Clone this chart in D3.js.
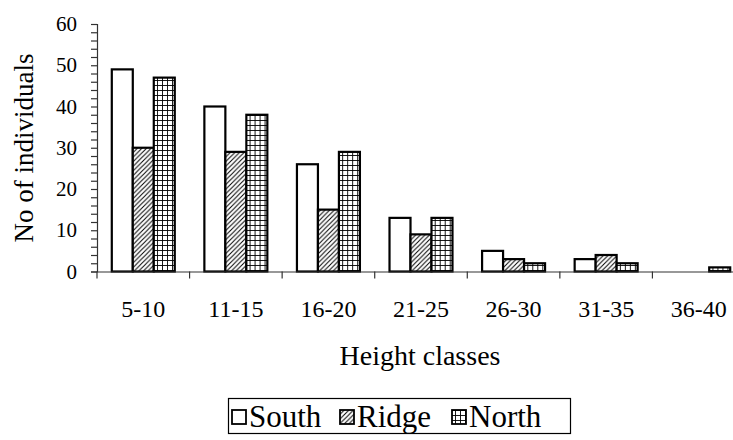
<!DOCTYPE html>
<html>
<head>
<meta charset="utf-8">
<script src="https://cdn.jsdelivr.net/npm/d3@7"></script>
<style>
  html, body { margin: 0; padding: 0; background: #fff; }
  svg { display: block; }
  svg text { font-family: "Liberation Serif", "Times New Roman", serif !important; fill: #000; }
</style>
</head>
<body>
<svg id="chart" width="733" height="440"></svg>
<script>
const categories = ["5-10", "11-15", "16-20", "21-25", "26-30", "31-35", "36-40"];
const seriesNames = ["South", "Ridge", "North"];
const south = [49, 40, 26, 13, 5, 3, 0];
const ridge = [30, 29, 15, 9, 3, 4, 0];
const north = [47, 38, 29, 13, 2, 2, 1];
const yTicks = [0, 10, 20, 30, 40, 50, 60];
const yTitle = "No of individuals";
const xTitle = "Height classes";

const FONT = "'Liberation Serif', 'Times New Roman', serif";
const seriesValues = { South: south, Ridge: ridge, North: north };
const fills = { South: "#fff", Ridge: "url(#hatch)", North: "url(#grid)" };

const svg = d3.select("#chart");
const defs = svg.append("defs");

// diagonal hatch
const hs = 4.6;
const hatch = defs.append("pattern").attr("id", "hatch").attr("patternUnits", "userSpaceOnUse")
  .attr("width", hs).attr("height", hs);
hatch.append("rect").attr("width", hs).attr("height", hs).attr("fill", "#fff");
hatch.append("path").attr("d", `M-1,${hs + 1} L${hs + 1},-1 M-1,1 L1,-1 M${hs - 1},${hs + 1} L${hs + 1},${hs - 1}`)
  .attr("stroke", "#000").attr("stroke-width", 1.0);

// grid
const grid = defs.append("pattern").attr("id", "grid").attr("patternUnits", "userSpaceOnUse")
  .attr("width", 5).attr("height", 5);
grid.append("rect").attr("width", 5).attr("height", 5).attr("fill", "#fff");
grid.append("path").attr("d", "M0,0.5 H5 M0.5,0 V5")
  .attr("stroke", "#000").attr("stroke-width", 0.9);

const x0 = d3.scaleBand().domain(categories).range([97, 745]).padding(0);
const x1 = d3.scaleBand().domain(seriesNames).range([0, x0.bandwidth()]).paddingInner(0).paddingOuter(0.705);
const y = d3.scaleLinear().domain([0, 60]).range([271.5, 24]);

// bars
const groups = svg.append("g").selectAll("g").data(categories).join("g")
  .attr("transform", d => `translate(${x0(d)},0)`);
groups.selectAll("rect")
  .data((c, i) => seriesNames.map(s => ({ s, v: seriesValues[s][i] })).filter(d => d.v > 0))
  .join("rect")
  .attr("x", d => x1(d.s))
  .attr("width", x1.bandwidth())
  .attr("y", d => y(d.v))
  .attr("height", d => y(0) - y(d.v))
  .attr("fill", d => fills[d.s])
  .attr("stroke", "#000")
  .attr("stroke-width", 2.2);

// y axis
const yAxis = svg.append("g").attr("transform", "translate(97,0)")
  .call(d3.axisLeft(y).tickValues(d3.range(0, 61, 2)).tickSize(6).tickPadding(14)
    .tickFormat(d => yTicks.includes(d) ? d : ""));
yAxis.attr("font-family", FONT);
yAxis.select(".domain").attr("stroke", "#333").attr("stroke-width", 1.2);
yAxis.selectAll(".tick line").attr("stroke", "#333").attr("stroke-width", 1.2);
yAxis.selectAll("text").attr("font-family", FONT).style("font-size", "21px");

// x axis
const xAxis = svg.append("g").attr("transform", `translate(0,${y(0)})`)
  .call(d3.axisBottom(x0).tickSize(0).tickPadding(28));
xAxis.attr("font-family", FONT);
xAxis.select(".domain").attr("stroke", "#333").attr("stroke-width", 1.2);
xAxis.selectAll("text").attr("font-family", FONT).style("font-size", "24px");
xAxis.selectAll(".sep").data(categories).join("line").attr("class", "sep")
  .attr("x1", d => x0(d)).attr("x2", d => x0(d))
  .attr("y1", 0).attr("y2", 7).attr("stroke", "#333").attr("stroke-width", 1.2);

// titles
svg.append("text").attr("transform", "translate(33,148) rotate(-90)")
  .attr("font-family", FONT)
  .attr("text-anchor", "middle").style("font-size", "27px").text(yTitle);
svg.append("text").attr("x", 420).attr("y", 365)
  .attr("font-family", FONT)
  .attr("text-anchor", "middle").style("font-size", "28px").text(xTitle);

// legend
const legend = svg.append("g");
legend.append("rect").attr("x", 228.5).attr("y", 398.5).attr("width", 342).attr("height", 35)
  .attr("fill", "#fff").attr("stroke", "#000").attr("stroke-width", 1.2);
const itemX = [232, 340, 452];
seriesNames.forEach((s, i) => {
  legend.append("rect").attr("x", itemX[i]).attr("y", 410).attr("width", 14).attr("height", 14)
    .attr("fill", fills[s]).attr("stroke", "#000").attr("stroke-width", 1.8);
  legend.append("text").attr("x", itemX[i] + 17).attr("y", 427)
    .attr("font-family", FONT)
    .style("font-size", "31px").text(s);
});
</script>
</body>
</html>
